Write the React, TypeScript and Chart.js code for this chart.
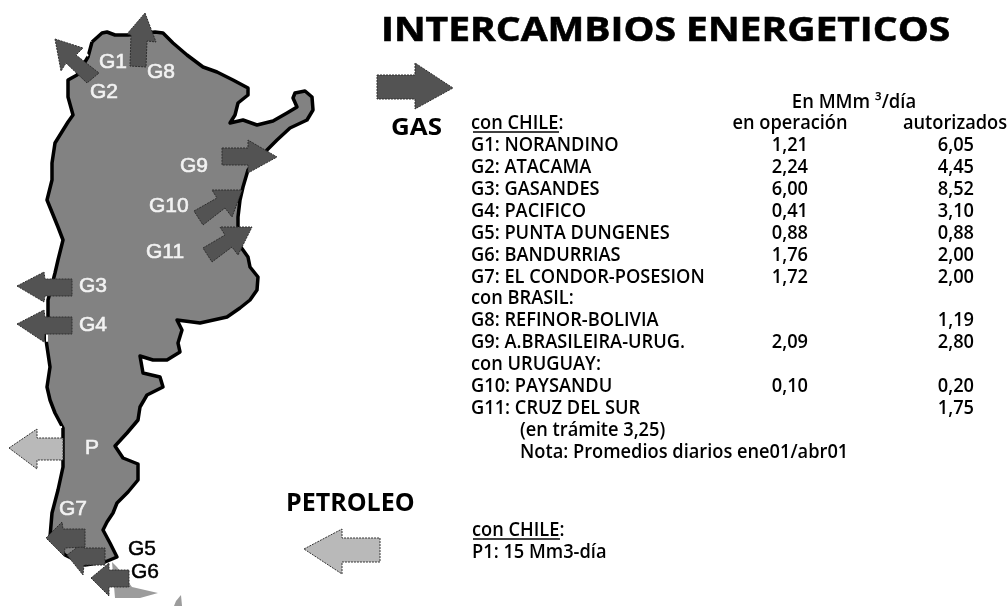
import React, { useEffect, useRef } from "react";
import { Chart, registerables } from "chart.js";

Chart.register(...registerables);

type P = [number, number];

const mapOutline: P[] = [[92,42],[102,33],[107,32],[115,35],[128,35],[155,32],[163,33],[173,43],[187,55],[203,67],[217,72],[233,80],[248,88],[248,95],[238,103],[235,115],[230,123],[243,120],[257,125],[273,121],[287,113],[297,107],[293,98],[295,93],[305,91],[312,97],[313,110],[307,120],[290,128],[277,140],[267,150],[257,163],[248,170],[243,187],[240,200],[238,217],[238,243],[248,257],[250,267],[258,277],[257,290],[250,300],[240,308],[227,317],[200,323],[177,320],[182,330],[178,343],[180,352],[167,360],[153,360],[140,356],[143,373],[160,377],[163,387],[147,395],[140,407],[138,420],[127,433],[115,446],[123,458],[138,464],[138,480],[128,492],[117,503],[113,513],[107,522],[103,530],[110,543],[117,557],[105,562],[85,565],[65,555],[50,537],[52,513],[58,490],[63,467],[63,428],[55,413],[50,400],[47,387],[50,367],[45,333],[48,317],[48,300],[55,273],[58,260],[63,240],[58,227],[47,200],[52,180],[52,163],[55,143],[68,122],[73,115],[68,97],[68,80],[77,75],[88,57],[92,42]];
const fuegoMain: P[] = [[112,562],[117,567],[132,587],[158,593],[140,598],[115,598]];
const fuegoIsle: P[] = [[181,595],[182,606],[174,606],[176,601]];

const darkArrows: P[][] = [
  [[145,13],[156,42],[147,41],[146,67],[130,66],[131,35],[127,34]],
  [[55,39],[83,48],[76,55],[99,73],[87,83],[66,63],[61,71]],
  [[222,148],[248,148],[248,140],[277,157],[248,173],[248,165],[222,165]],
  [[194,211],[217,198],[212,190],[242,190],[232,217],[225,208],[203,225]],
  [[203,248],[225,235],[220,227],[252,227],[238,255],[232,247],[212,262]],
  [[17,286],[44,272],[45,279],[72,279],[72,296],[45,296],[44,302]],
  [[17,324],[44,310],[45,317],[72,317],[72,334],[45,334],[44,342]],
  [[46,538],[62,522],[63,529],[85,529],[85,547],[65,548],[64,556]],
  [[67,555],[83,543],[84,548],[105,548],[105,565],[84,565],[83,575]],
  [[91,578],[109,563],[109,570],[129,570],[129,587],[109,587],[109,596]],
  [[377,75],[415,75],[415,63],[453,88],[415,109],[415,99],[377,99]],
];
const lightArrows: P[][] = [
  [[9,448],[37,429],[37,438],[63,438],[63,460],[37,460],[37,469]],
  [[304,549],[342,529],[342,538],[380,538],[380,562],[342,562],[342,574]],
];
const coastGaps: P[][] = [
  [[83,50],[88,56]],
  [[54,428],[62,427]],
  [[47,335],[47,341]],
];
const underlines: P[][] = [
  [[473,132],[559,132]],
  [[473,539],[560,539]],
];

const titleText = "INTERCAMBIOS ENERGETICOS";
const headerUnits = "En MMm ³/día";
const headerOperating = "en operación";
const headerAuthorized = "autorizados";
const rowLabels = ["con CHILE:","G1: NORANDINO","G2: ATACAMA","G3: GASANDES","G4: PACIFICO","G5: PUNTA DUNGENES","G6: BANDURRIAS","G7: EL CONDOR-POSESION","con BRASIL:","G8: REFINOR-BOLIVIA","G9: A.BRASILEIRA-URUG.","con URUGUAY:","G10: PAYSANDU","G11: CRUZ DEL SUR"];
const operating = ["","1,21","2,24","6,00","0,41","0,88","1,76","1,72","","","2,09","","0,10",""];
const authorized = ["","6,05","4,45","8,52","3,10","0,88","2,00","2,00","","1,19","2,80","","0,20","1,75"];
const rowBaselines = [129,151,173,195,217,239,261,283,304,326,348,370,392,414];
const notes = ["(en trámite 3,25)","Nota: Promedios diarios ene01/abr01"];
const noteBaselines = [436,458];
const oilLines = ["con CHILE:","P1: 15 Mm3-día"];
const oilBaselines = [536,558];
const mapLabels = ["G1","G8","G2","G9","G10","G11","G3","G4","P","G7"];
const mapLabelX = [99,147,90,180,149,146,79,79,85,59];
const mapLabelY = [68,78,98,172,212,258,292,331,454,515];
const southLabels = ["G5","G6"];
const southLabelX = [128,131];
const southLabelY = [555,578];

const TEXT = "'Open Sans', sans-serif";

function polygon(points: P[], fill: string, stroke: string, width: number, dash: number[], order: number) {
  return {
    data: points.map(([x, y]) => ({ x, y })),
    showLine: true,
    tension: 0,
    pointRadius: 0,
    borderColor: stroke,
    borderWidth: width,
    borderDash: dash,
    borderJoinStyle: "round" as const,
    polygonFill: fill,
    order,
  };
}
const closed = (p: P[]): P[] => [...p, p[0]];

const polygonFillPlugin = {
  id: "polygonFill",
  beforeDatasetDraw(chart: any, args: any) {
    const ds = chart.data.datasets[args.index];
    if (!ds.polygonFill) return;
    const { ctx } = chart;
    ctx.save();
    ctx.beginPath();
    args.meta.data.forEach((pt: any, i: number) => (i ? ctx.lineTo(pt.x, pt.y) : ctx.moveTo(pt.x, pt.y)));
    ctx.closePath();
    ctx.fillStyle = ds.polygonFill;
    ctx.fill();
    ctx.restore();
  },
};

const textPlugin = {
  id: "textLayer",
  afterDatasetsDraw(chart: any) {
    const { ctx, scales } = chart;
    const put = (s: string, x: number, y: number, font: string, color: string, sx: number, align: CanvasTextAlign = "left", thick = 0) => {
      if (!s) return;
      ctx.save();
      ctx.translate(scales.x.getPixelForValue(x), scales.y.getPixelForValue(y));
      ctx.scale(sx, 1);
      ctx.font = font;
      ctx.fillStyle = color;
      ctx.textAlign = align;
      ctx.textBaseline = "alphabetic";
      ctx.fillText(s, 0, 0);
      if (thick) {
        ctx.strokeStyle = color;
        ctx.lineWidth = thick;
        ctx.strokeText(s, 0, 0);
      }
      ctx.restore();
    };
    const body = `600 19px ${TEXT}`;
    const squeeze = 0.96;
    put(titleText, 381, 41, `700 34px ${TEXT}`, "#000", 1.147, "left", 0.6);
    put("GAS", 391, 135, `700 24px ${TEXT}`, "#000", 1.08);
    put("PETROLEO", 286, 511, `700 25px ${TEXT}`, "#000", 1.0);
    put(headerUnits, 854, 108, body, "#000", 0.97, "center");
    put(headerOperating, 790, 129, body, "#000", squeeze, "center");
    put(headerAuthorized, 955, 129, body, "#000", squeeze, "center");
    rowLabels.forEach((s, i) => {
      put(s, 471, rowBaselines[i], body, "#000", squeeze);
      put(operating[i], 808, rowBaselines[i], body, "#000", squeeze, "right");
      put(authorized[i], 974, rowBaselines[i], body, "#000", squeeze, "right");
    });
    notes.forEach((s, i) => put(s, 520, noteBaselines[i], body, "#000", squeeze));
    oilLines.forEach((s, i) => put(s, 472, oilBaselines[i], body, "#000", squeeze));
    const mapFont = `400 21px 'Liberation Sans', sans-serif`;
    mapLabels.forEach((s, i) => put(s, mapLabelX[i], mapLabelY[i], mapFont, "#f2f2f2", 1, "left", 0.6));
    southLabels.forEach((s, i) => put(s, southLabelX[i], southLabelY[i], mapFont, "#000", 1, "left", 0.5));
  },
};

export default function App() {
  const ref = useRef<HTMLCanvasElement>(null);
  useEffect(() => {
    document.body.style.margin = "0";
    const chart = new Chart(ref.current!, {
      type: "scatter",
      data: {
        datasets: [
          polygon(closed(mapOutline), "#828282", "#000", 3.5, [], 3),
          polygon(fuegoMain, "#9c9c9c", "transparent", 0, [], 2),
          polygon(fuegoIsle, "#9c9c9c", "transparent", 0, [], 2),
          ...coastGaps.map((a) => polygon(a, "", "#fff", 2, [], 2)),
          ...darkArrows.map((a) => polygon(closed(a), "#535353", "#2e2e2e", 1, [2, 1], 1)),
          ...lightArrows.map((a) => polygon(closed(a), "#b9b9b9", "#333", 1, [2, 1], 1)),
          ...underlines.map((a) => polygon(a, "", "#000", 1.5, [], 0)),
        ] as any,
      },
      options: {
        animation: false,
        responsive: false,
        layout: { padding: 0 },
        plugins: { legend: { display: false }, title: { display: false }, tooltip: { enabled: false } },
        scales: {
          x: { type: "linear", display: false, min: 0, max: 1008 },
          y: { type: "linear", display: false, min: 0, max: 606, reverse: true },
        },
      },
      plugins: [polygonFillPlugin, textPlugin],
    });
    return () => chart.destroy();
  }, []);
  return <canvas ref={ref} width={1008} height={606} style={{ display: "block", width: 1008, height: 606, filter: "blur(0.45px)" }} />;
}
